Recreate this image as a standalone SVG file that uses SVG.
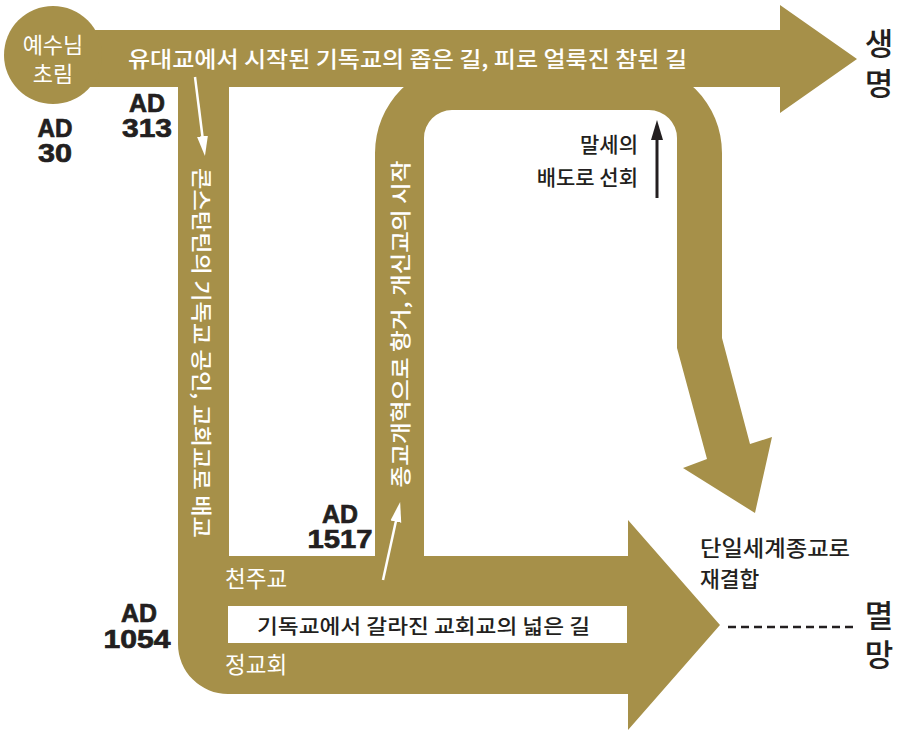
<svg xmlns="http://www.w3.org/2000/svg" width="899" height="733" viewBox="0 0 899 733">
<style>
.gold{fill:#A69049}
.kr{font-family:"Noto Sans CJK KR","Noto Sans",sans-serif}
.w{fill:#ffffff}
.k{fill:#231F20}
.ad{font-family:"Liberation Sans",Arial,sans-serif;font-weight:bold;font-size:26px;fill:#231F20;text-anchor:middle;stroke:#231F20;stroke-width:0.7}
.big{font-family:"Noto Sans CJK KR","Noto Sans",sans-serif;font-size:31px;font-weight:500;fill:#231F20;text-anchor:middle}
</style>
<defs>
<marker id="whead" viewBox="0 -7 20 14" refX="10" refY="0" markerWidth="20" markerHeight="14" markerUnits="userSpaceOnUse" orient="auto">
<path d="M0,-5.5 L20,0 L0,5.5 z" fill="#ffffff"/>
</marker>
<marker id="khead" viewBox="0 -7 20 14" refX="10" refY="0" markerWidth="20" markerHeight="14" markerUnits="userSpaceOnUse" orient="auto">
<path d="M0,-6 L20,0 L0,6 z" fill="#231F20"/>
</marker>
</defs>
<rect width="899" height="733" fill="#ffffff"/>

<g id="reform-path">
<path class="gold" d="M375,560 L375,153 A90,90 0 0 1 465,63 L632,63 A90,90 0 0 1 722,153 L722,338 L750,444 L772,437 L755,513 L683,468 L707,459 L677,348 L677,138 A28,28 0 0 0 649,110 L452,110 A28,28 0 0 0 424,138 L424,560 Z"/>
</g>

<g id="main-path">
<path class="gold" d="M55,30 L780,30 L780,5 L857,59 L780,113 L780,87 L229,87 L229,556 L628,556 L628,520 L720,625 L628,730 L628,694 L228,694 A50,50 0 0 1 178,644 L178,87 L55,87 Z"/>
<rect x="228" y="606" width="399" height="37" fill="#ffffff"/>
</g>

<g id="origin-node">
<circle class="gold" cx="53" cy="55" r="49"/>
<text class="kr w" font-size="22" font-weight="400" text-anchor="middle"><tspan x="53" y="53">예수님</tspan><tspan x="53" y="82">초림</tspan></text>
</g>

<g id="labels">
<text class="kr w" x="128" y="67" font-size="22" font-weight="500" textLength="559" lengthAdjust="spacingAndGlyphs">유대교에서 시작된 기독교의 좁은 길, 피로 얼룩진 참된 길</text>
<text class="kr w" transform="translate(203,353) rotate(90)" font-size="21" font-weight="500" text-anchor="middle" dominant-baseline="central" textLength="370" lengthAdjust="spacingAndGlyphs">콘스탄틴의 기독교 공인, 교회교로 배교</text>
<text class="kr w" transform="translate(399,324) rotate(-90)" font-size="21" font-weight="500" text-anchor="middle" dominant-baseline="central" textLength="327" lengthAdjust="spacingAndGlyphs">종교개혁으로 항거, 개신교의 시작</text>
<text class="kr w" x="225" y="587" font-size="22.5" font-weight="400">천주교</text>
<text class="kr w" x="225" y="673" font-size="22.5" font-weight="400">정교회</text>
<text class="kr k" x="257" y="634" font-size="20.5" font-weight="500" textLength="333" lengthAdjust="spacingAndGlyphs">기독교에서 갈라진 교회교의 넓은 길</text>
<text class="kr k" font-size="21" font-weight="500" text-anchor="end"><tspan x="638" y="152">말세의</tspan><tspan x="638" y="185">배도로 선회</tspan></text>
<text class="kr k" font-size="21.5" font-weight="500"><tspan x="700" y="556" textLength="150" lengthAdjust="spacingAndGlyphs">단일세계종교로</tspan><tspan x="700" y="587">재결합</tspan></text>
<text class="big"><tspan x="879" y="55">생</tspan><tspan x="879" y="95">명</tspan></text>
<text class="big"><tspan x="879" y="627">멸</tspan><tspan x="879" y="666">망</tspan></text>
</g>

<g id="dates">
<text class="ad"><tspan x="55" y="137" textLength="35" lengthAdjust="spacingAndGlyphs">AD</tspan><tspan x="55" y="162" textLength="34" lengthAdjust="spacingAndGlyphs">30</tspan></text>
<text class="ad"><tspan x="147" y="112" textLength="36" lengthAdjust="spacingAndGlyphs">AD</tspan><tspan x="147" y="137" textLength="50" lengthAdjust="spacingAndGlyphs">313</tspan></text>
<text class="ad"><tspan x="340" y="523" textLength="36" lengthAdjust="spacingAndGlyphs">AD</tspan><tspan x="340" y="548" textLength="65" lengthAdjust="spacingAndGlyphs">1517</tspan></text>
<text class="ad"><tspan x="139" y="622" textLength="36" lengthAdjust="spacingAndGlyphs">AD</tspan><tspan x="137" y="648" textLength="67" lengthAdjust="spacingAndGlyphs">1054</tspan></text>
</g>

<g id="connectors">
<line x1="195" y1="77" x2="203.7" y2="146.1" stroke="#ffffff" stroke-width="2.5" marker-end="url(#whead)"/>
<line x1="383" y1="580" x2="398" y2="511.8" stroke="#ffffff" stroke-width="2.5" marker-end="url(#whead)"/>
<line x1="657" y1="198" x2="657" y2="130" stroke="#231F20" stroke-width="3" marker-end="url(#khead)"/>
<line x1="728" y1="627" x2="858" y2="627" stroke="#231F20" stroke-width="2.5" stroke-dasharray="8 5"/>
</g>
</svg>
